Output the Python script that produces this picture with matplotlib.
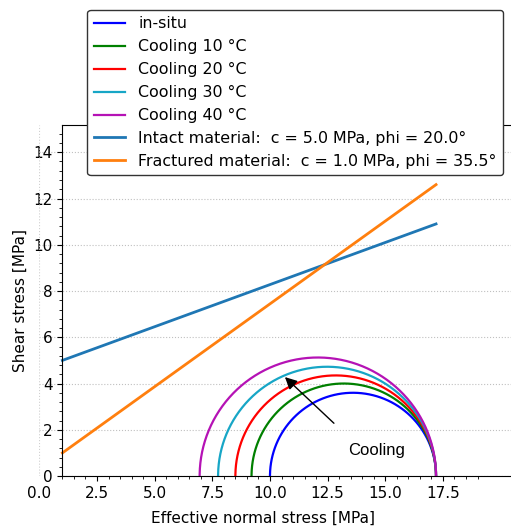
import numpy as np
import matplotlib
matplotlib.use("Agg")
import matplotlib.pyplot as plt
from matplotlib.ticker import AutoMinorLocator, FixedLocator

# Mohr circles: minimum / maximum effective principal stress [MPa]
circle_labels = ["in-situ", "Cooling 10 °C", "Cooling 20 °C", "Cooling 30 °C", "Cooling 40 °C"]
sigma3 = [10.0, 9.2, 8.5, 7.75, 6.95]
sigma1 = [17.2, 17.2, 17.2, 17.2, 17.2]
circle_colors = ["#0000ff", "#008000", "#ff0000", "#17a6c6", "#b512b5"]

# failure envelopes (end points)
intact_x = [1.0, 17.2]
intact_y = [5.0, 10.9]
fractured_x = [1.0, 17.2]
fractured_y = [1.0, 12.6]
intact_label = "Intact material:  c = 5.0 MPa, phi = 20.0°"
fractured_label = "Fractured material:  c = 1.0 MPa, phi = 35.5°"

x_ticks = [0.0, 2.5, 5.0, 7.5, 10.0, 12.5, 15.0, 17.5]
y_ticks = [0, 2, 4, 6, 8, 10, 12, 14]

fig = plt.figure(figsize=(5.11, 5.26), dpi=100)
ax = fig.add_axes([0.077, 0.095, 0.923, 0.667])

theta = np.linspace(0, np.pi, 200)
for s3, s1, lab, col in zip(sigma3, sigma1, circle_labels, circle_colors):
    centre = (s1 + s3) / 2
    radius = (s1 - s3) / 2
    ax.plot(centre + radius * np.cos(theta), radius * np.sin(theta),
            color=col, lw=1.6, label=lab)

ax.plot(intact_x, intact_y, color="#1f77b4", lw=2, label=intact_label)
ax.plot(fractured_x, fractured_y, color="#ff7f0e", lw=2, label=fractured_label)

ax.annotate("", xy=(10.56, 4.36), xytext=(12.86, 2.2),
            arrowprops=dict(arrowstyle="-|>", color="k", lw=1.0, mutation_scale=18))
ax.text(14.6, 1.12, "Cooling", fontsize=12, family="Liberation Sans",
        ha="center", va="center")

ax.set_xlim(0, 20.45)
ax.set_ylim(0, 15.17)
ax.xaxis.set_major_locator(FixedLocator(x_ticks))
ax.xaxis.set_minor_locator(FixedLocator(np.arange(1.0, 19.01, 0.5)))
ax.set_yticks(y_ticks)
ax.yaxis.set_minor_locator(AutoMinorLocator(5))
ax.set_xticklabels([f"{t:.1f}" for t in x_ticks])
ax.tick_params(labelsize=11)
ax.xaxis.get_major_ticks()[0].tick1line.set_visible(False)

ax.spines["left"].set_position(("data", 1.0))
ax.spines["bottom"].set_bounds(1.0, 20.45)
ax.spines["top"].set_bounds(1.0, 20.45)
ax.spines["right"].set_visible(False)

ax.grid(axis="y", which="major", ls=":", color="#c0c0c0", lw=0.8)
ax.axvline(0, ls=":", color="#d0d0d0", lw=0.8)

ax.set_xlabel("Effective normal stress [MPa]", fontsize=11)
ax.set_ylabel("Shear stress [MPa]", fontsize=11)
ax.xaxis.set_label_coords(0.474, -0.098)

leg = ax.legend(loc="upper right", bbox_to_anchor=(0.984, 0.981),
                bbox_transform=fig.transFigure, borderaxespad=0,
                fontsize=11.4, framealpha=1, edgecolor="#333333")
leg.get_frame().set_linewidth(1.0)

fig.savefig("out.png", dpi=100)
